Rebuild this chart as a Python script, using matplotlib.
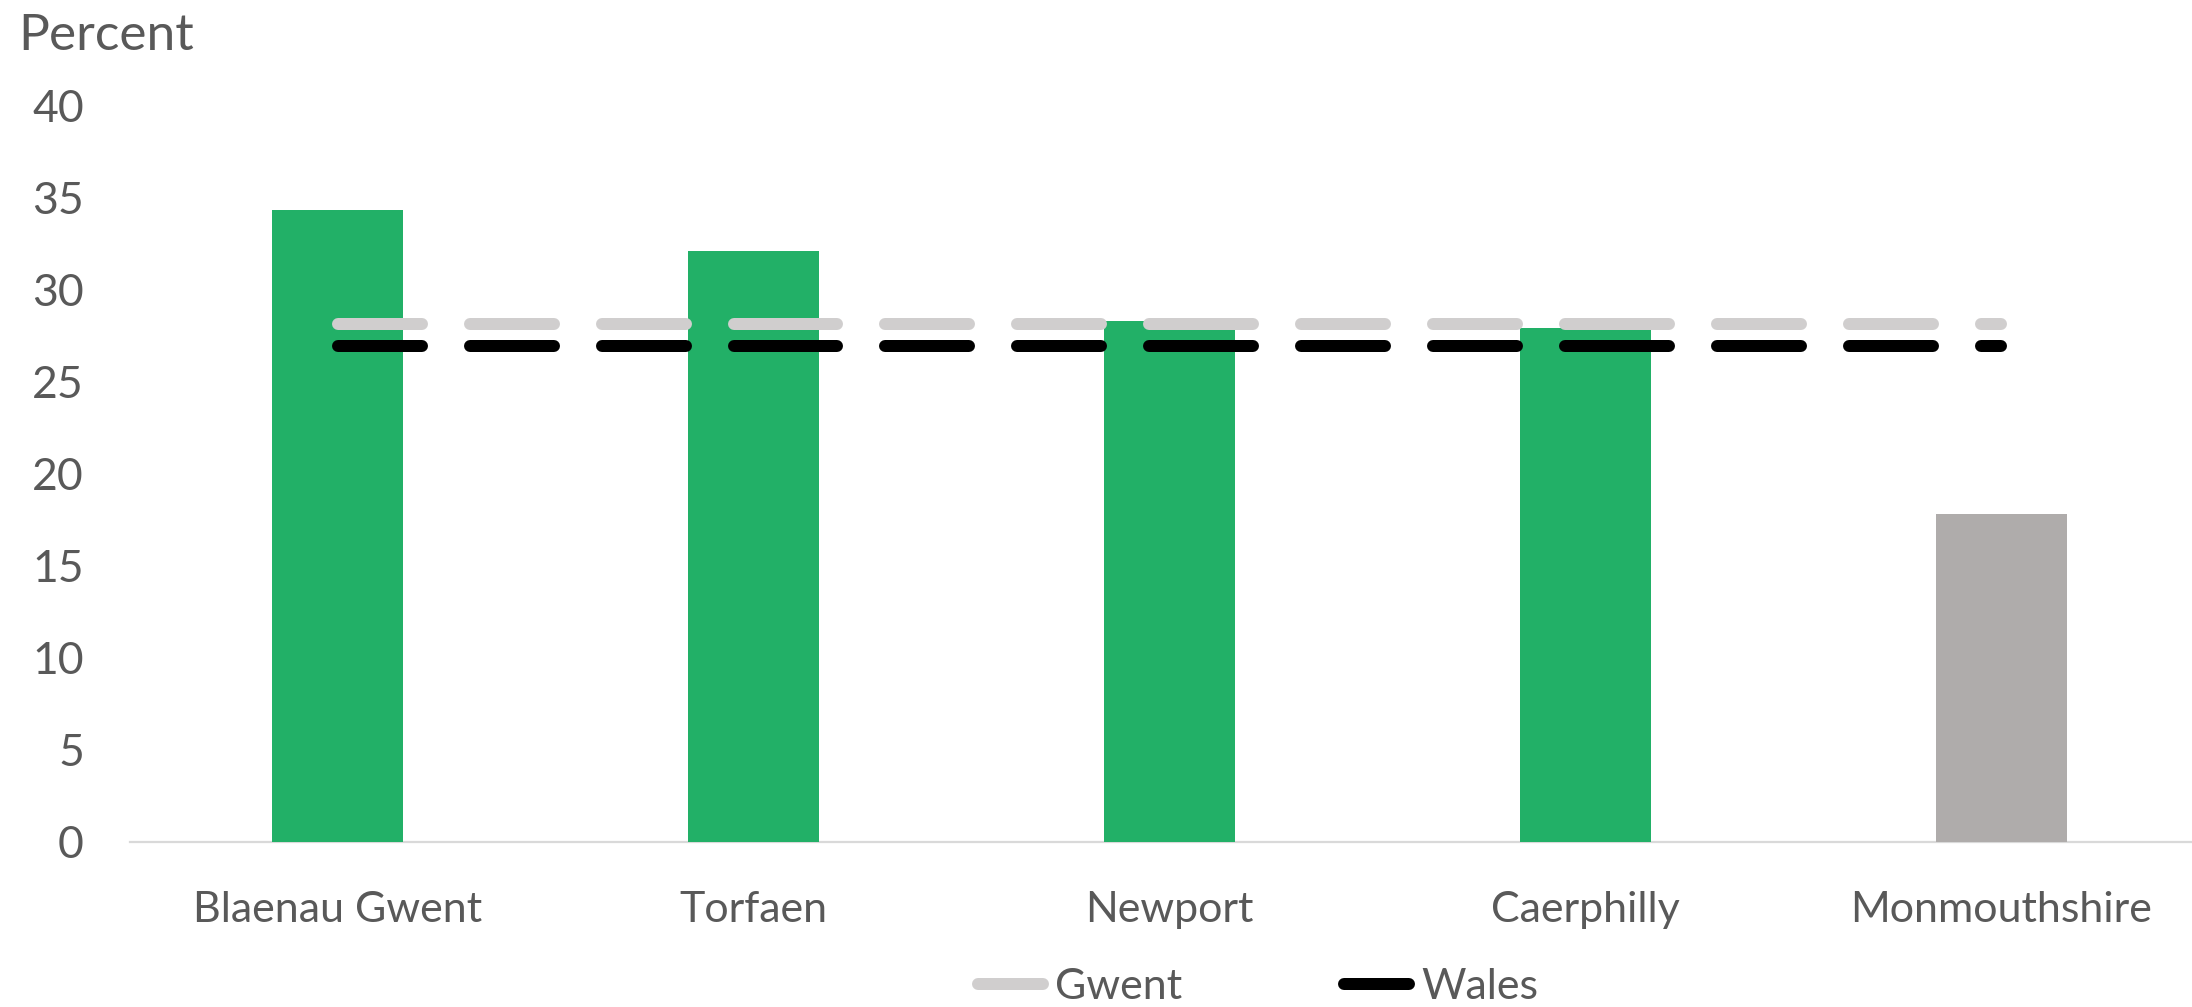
"""
Bar chart of percentage by local authority in Gwent, with Gwent and Wales
averages drawn as dashed reference lines.
"""

import matplotlib
matplotlib.use("Agg")
import matplotlib.pyplot as plt
from matplotlib.lines import Line2D

# Data
areas = ["Blaenau Gwent", "Torfaen", "Newport", "Caerphilly", "Monmouthshire"]
area_values = [34.3, 32.1, 28.3, 27.9, 17.8]
gwent_avg = [28.1, 28.1, 28.1, 28.1, 28.1]
wales_avg = [26.9, 26.9, 26.9, 26.9, 26.9]
y_ticks = [0, 5, 10, 15, 20, 25, 30, 35, 40]

# Style
GREEN = "#22B067"
GREY_BAR = "#AFACAB"
GWENT_COLOR = "#D0CECE"
WALES_COLOR = "#000000"
TEXT_COLOR = "#595959"
AXIS_COLOR = "#D9D9D9"
LINE_WIDTH = 8.64  # points (12 px at 100 dpi)

plt.rcParams["font.family"] = ["Lato", "DejaVu Sans"]


def draw_segmented_line(ax, xs, ys, color):
    """Excel restarts the dash pattern at each point, so draw per segment."""
    for i in range(len(xs) - 1):
        ax.plot(xs[i:i + 2], ys[i:i + 2], color=color, lw=LINE_WIDTH,
                linestyle=(0, (7, 4)), dash_capstyle="round",
                solid_capstyle="round", zorder=3, clip_on=False)


def main():
    fig = plt.figure(figsize=(21.92, 10.07), dpi=100)
    ax = fig.add_axes([0.0591, 0.1639, 0.9487, 0.7318])

    xs = list(range(len(areas)))
    bar_colors = [GREEN, GREEN, GREEN, GREEN, GREY_BAR]
    ax.bar(xs, area_values, width=0.315, color=bar_colors, zorder=2)

    draw_segmented_line(ax, xs, gwent_avg, GWENT_COLOR)
    draw_segmented_line(ax, xs, wales_avg, WALES_COLOR)

    ax.set_xlim(-0.5, len(areas) - 0.5)
    ax.set_ylim(0, 40)
    ax.set_yticks(y_ticks)
    ax.set_xticks(xs)
    ax.set_xticklabels(areas)

    for side in ("left", "right", "top"):
        ax.spines[side].set_visible(False)
    ax.spines["bottom"].set_color(AXIS_COLOR)
    ax.spines["bottom"].set_linewidth(1.6)
    ax.spines["bottom"].set_zorder(1)

    ax.tick_params(axis="y", length=0, pad=32.8, labelsize=32,
                   labelcolor=TEXT_COLOR)
    ax.tick_params(axis="x", length=0, pad=35.5, labelsize=31,
                   labelcolor=TEXT_COLOR)

    fig.text(0.0082, 0.9503, "Percent", fontsize=37, color=TEXT_COLOR,
             ha="left", va="baseline")

    handles = [
        Line2D([], [], color=GWENT_COLOR, lw=LINE_WIDTH, solid_capstyle="round"),
        Line2D([], [], color=WALES_COLOR, lw=LINE_WIDTH, solid_capstyle="round"),
    ]
    leg = fig.legend(handles, ["Gwent", "Wales"], ncol=2, loc="center",
                     bbox_to_anchor=(0.5740, 0.0199), frameon=False,
                     fontsize=31, handlelength=1.51, handletextpad=0.28,
                     columnspacing=3.75, borderpad=0, borderaxespad=0)
    for text in leg.get_texts():
        text.set_color(TEXT_COLOR)

    fig.savefig("out.png", dpi=100, facecolor="white")
    plt.close(fig)


if __name__ == "__main__":
    main()
